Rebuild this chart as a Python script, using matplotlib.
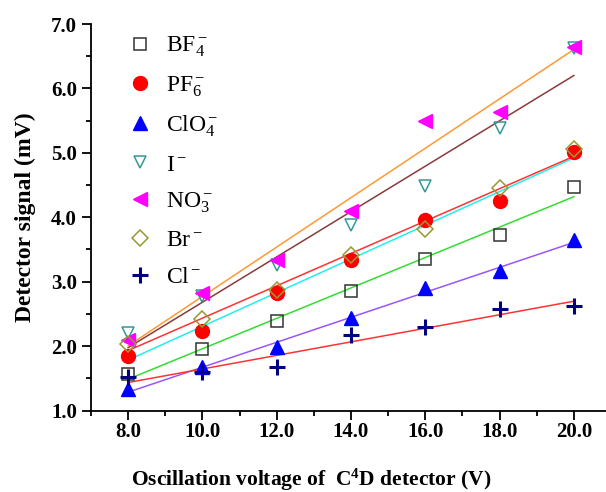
import matplotlib
matplotlib.use("Agg")
import matplotlib.pyplot as plt
import numpy as np

plt.rcParams["font.family"] = ["Liberation Serif", "DejaVu Serif"]
plt.rcParams["mathtext.fontset"] = "custom"
plt.rcParams["mathtext.rm"] = "Liberation Serif"
plt.rcParams["mathtext.it"] = "Liberation Serif:italic"
plt.rcParams["mathtext.bf"] = "Liberation Serif:bold"

# tension d'oscillation (V)
voltage = [8, 10, 12, 14, 16, 18, 20]

# signal (mV) par anion
bf4 = [1.57, 1.95, 2.39, 2.86, 3.35, 3.73, 4.47]
pf6 = [1.85, 2.24, 2.82, 3.34, 3.95, 4.26, 5.01]
clo4 = [1.33, 1.67, 1.99, 2.43, 2.90, 3.16, 3.65]
iodure = [2.21, 2.77, 3.26, 3.88, 4.49, 5.38, 6.63]
no3 = [2.09, 2.83, 3.33, 4.09, 5.50, 5.64, 6.65]
br = [2.04, 2.42, 2.87, 3.41, 3.82, 4.45, 5.06]
cl = [1.52, 1.60, 1.67, 2.17, 2.30, 2.58, 2.62]

noms = [r"BF$_4^-$", r"PF$_6^-$", r"ClO$_4^-$", r"I$^-$", r"NO$_3^-$", r"Br$^-$", r"Cl$^-$"]

# (serie, marqueur, couleur, rempli, couleur de la droite)
series = [
    (bf4, "s", "#333333", False, "#33DD33"),
    (pf6, "o", "#FF0000", True, "#22EEEE"),
    (clo4, "^", "#0000FF", True, "#9955FF"),
    (iodure, "v", "#339999", False, "#8B3A3A"),
    (no3, "<", "#FF00FF", True, "#FF9933"),
    (br, "D", "#999933", False, "#FF3333"),
    (cl, "+", "#000080", True, "#FF3333"),
]

fig = plt.figure(figsize=(6.06, 4.92), dpi=100)
ax = fig.add_axes([91 / 606, 1 - 410.5 / 492, 520 / 606, 386.5 / 492])

x = np.array(voltage)
for (y, m, c, plein, lc), nom in zip(series, noms):
    # droite de regression
    a, b = np.polyfit(x, y, 1)
    ax.plot(x, a * x + b, color=lc, lw=1.1, zorder=2)

for (y, m, c, plein, lc), nom in zip(series, noms):
    ms = 10 if plein else 9
    if m == "D":
        ms = 8
    if m == "+":
        ax.plot(x, y, ls="none", marker=m, ms=11, mew=2.2, color=c, label=nom, zorder=3)
    elif plein:
        ax.plot(x, y, ls="none", marker=m, ms=ms, color=c, mec=c, label=nom, zorder=3)
    else:
        ax.plot(x, y, ls="none", marker=m, ms=ms, mfc="none", mec=c, mew=1.1, label=nom, zorder=3)

ax.set_xlim(7, 21)
ax.set_ylim(1, 7)
ax.set_xticks(np.arange(8, 21, 2))
ax.set_xticks(np.arange(7, 22, 1), minor=True)
ax.set_yticks(np.arange(1, 7.1, 1))
ax.set_yticks(np.arange(1, 7.1, 0.5), minor=True)
ax.set_xticklabels([f"{v:.1f}" for v in np.arange(8, 21, 2)])
ax.set_yticklabels([f"{v:.1f}" for v in np.arange(1, 7.1, 1)])
for lab in ax.get_xticklabels() + ax.get_yticklabels():
    lab.set_fontweight("bold")
    lab.set_fontsize(15)

ax.spines["top"].set_visible(False)
ax.spines["right"].set_visible(False)
for s in ["left", "bottom"]:
    ax.spines[s].set_linewidth(1.3)
ax.tick_params(which="major", direction="out", length=6.5, width=1.3)
ax.tick_params(which="minor", direction="out", length=3.5, width=1.3)
ax.tick_params(axis="y", which="major", pad=3.5)
ax.tick_params(axis="x", which="major", pad=2)

ax.set_ylabel("Detector signal (mV)", fontsize=17, fontweight="bold")
ax.yaxis.set_label_coords(-0.105, 0.5)
ax.set_xlabel(r"Oscillation voltage of  C$^\mathbf{4}$D detector (V)", fontsize=15.5,
              fontweight="bold")
ax.xaxis.set_label_coords(0.423, -0.145)

ax.legend(loc="upper left", bbox_to_anchor=(0.0535, 0.996), frameon=False, fontsize=17,
          handlelength=1.0, handletextpad=0.6, labelspacing=0.63, borderaxespad=0)

fig.savefig("out.png", dpi=100)
